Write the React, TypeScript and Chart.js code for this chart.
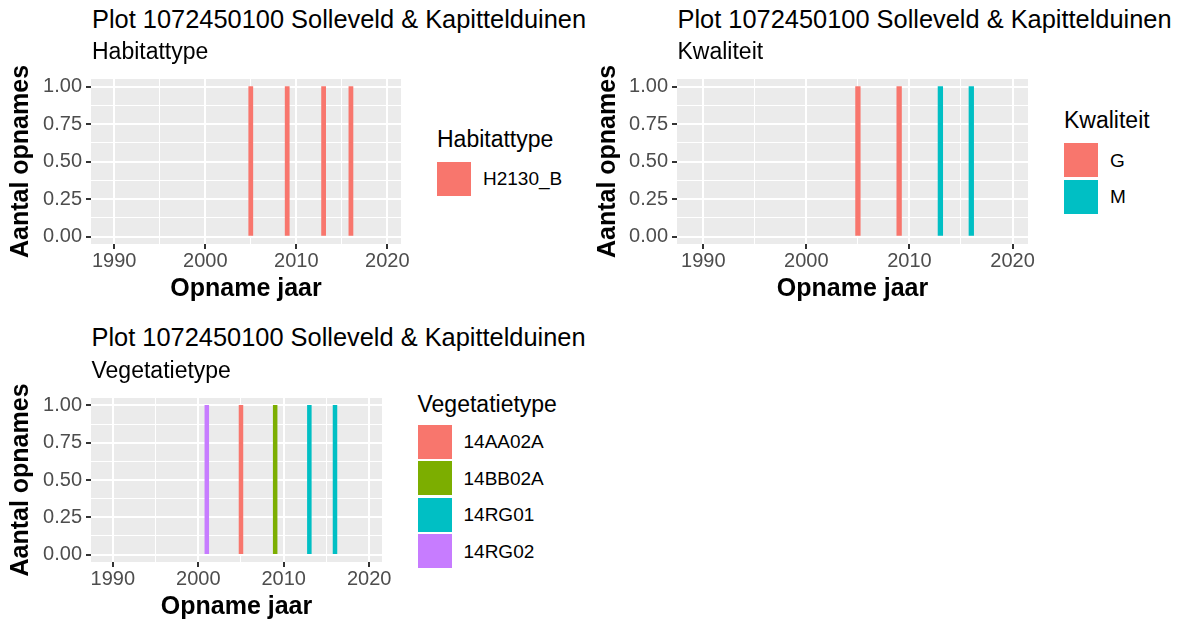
import React, { useEffect, useRef } from 'react';
import { Chart, registerables } from 'chart.js';

Chart.register(...registerables);

// ---------- text ----------
const plotTitle = 'Plot 1072450100 Solleveld & Kapittelduinen';
const xAxisTitle = 'Opname jaar';
const yAxisTitle = 'Aantal opnames';

// ---------- axes ----------
const xLimits = [1987.45, 2021.5];
const yLimits = [-0.05, 1.05];
const xMajorTicks = [1990, 2000, 2010, 2020];
const xMinorTicks = [1995, 2005, 2015];
const yMajorTicks = [0, 0.25, 0.5, 0.75, 1];
const yMinorTicks = [0.125, 0.375, 0.625, 0.875];
const barWidthYears = 0.45;

// ---------- panel 1: Habitattype ----------
const habitatYears = [2005, 2009, 2013, 2016];
const habitatTypes = ['H2130_B', 'H2130_B', 'H2130_B', 'H2130_B'];
const habitatCounts = [1, 1, 1, 1];
const habitatLevels = ['H2130_B'];
const habitatColors = ['#F8766D'];

// ---------- panel 2: Kwaliteit ----------
const kwaliteitYears = [2005, 2009, 2013, 2016];
const kwaliteitClasses = ['G', 'G', 'M', 'M'];
const kwaliteitCounts = [1, 1, 1, 1];
const kwaliteitLevels = ['G', 'M'];
const kwaliteitColors = ['#F8766D', '#00BFC4'];

// ---------- panel 3: Vegetatietype ----------
const vegetatieYears = [2001, 2005, 2009, 2013, 2016];
const vegetatieTypes = ['14RG02', '14AA02A', '14BB02A', '14RG01', '14RG01'];
const vegetatieCounts = [1, 1, 1, 1, 1];
const vegetatieLevels = ['14AA02A', '14BB02A', '14RG01', '14RG02'];
const vegetatieColors = ['#F8766D', '#7CAE00', '#00BFC4', '#C77CFF'];

const FONT = "'Liberation Sans', Arial, Helvetica, sans-serif";

type Layout = {
  left: number; top: number; w: number; h: number;
  yAxisWidth: number; xAxisHeight: number; padTop: number; padRight: number;
};

type PanelProps = {
  years: number[]; groups: string[]; counts: number[];
  levels: string[]; colors: string[]; layout: Layout;
};

function near(list: number[], v: number) {
  return list.some((t) => Math.abs(t - v) < 1e-9);
}

function Panel({ years, groups, counts, levels, colors, layout }: PanelProps) {
  const ref = useRef<HTMLCanvasElement>(null);
  useEffect(() => {
    if (!ref.current) return;
    const areaWidth = layout.w - layout.yAxisWidth - layout.padRight;
    const pxPerYear = areaWidth / (xLimits[1] - xLimits[0]);
    const thickness = barWidthYears * pxPerYear;
    const datasets = levels.map((lvl, i) => ({
      label: lvl,
      data: years
        .map((yr, j) => (groups[j] === lvl ? { x: yr, y: counts[j] } : null))
        .filter((d) => d !== null),
      backgroundColor: colors[i],
      borderWidth: 0,
      barThickness: thickness,
      grouped: false,
    }));
    const chart = new Chart(ref.current, {
      type: 'bar',
      data: { datasets: datasets as any },
      options: {
        animation: false,
        responsive: false,
        maintainAspectRatio: false,
        devicePixelRatio: 1,
        events: [],
        layout: { padding: { top: layout.padTop, right: layout.padRight, left: 0, bottom: 0 } },
        plugins: {
          legend: { display: false },
          tooltip: { enabled: false },
          title: { display: false },
        },
        scales: {
          x: {
            type: 'linear',
            min: xLimits[0],
            max: xLimits[1],
            bounds: 'data',
            offset: false,
            border: { display: false },
            grid: {
              offset: false,
              color: '#FFFFFF',
              lineWidth: (ctx: any) => (near(xMajorTicks, ctx.tick?.value) ? 2 : 1),
              drawTicks: true,
              tickLength: 5,
              tickWidth: 2,
              tickColor: (ctx: any) => (near(xMajorTicks, ctx.tick?.value) ? '#333333' : 'rgba(0,0,0,0)'),
            },
            ticks: {
              autoSkip: false,
              maxRotation: 0,
              minRotation: 0,
              padding: 0,
              color: '#4D4D4D',
              font: { family: FONT, size: 20 },
              callback: (v: any) => (near(xMajorTicks, Number(v)) ? String(v) : ''),
            },
            afterBuildTicks: (axis: any) => {
              axis.ticks = [...xMajorTicks, ...xMinorTicks].sort((a, b) => a - b).map((v) => ({ value: v }));
            },
            afterFit: (axis: any) => {
              axis.height = layout.xAxisHeight;
            },
            title: {
              display: true,
              text: xAxisTitle,
              color: '#000000',
              font: { family: FONT, size: 25, weight: 'bold' },
              padding: { top: 0, bottom: 5.5 },
            },
          },
          y: {
            type: 'linear',
            min: yLimits[0],
            max: yLimits[1],
            bounds: 'data',
            border: { display: false },
            grid: {
              color: '#FFFFFF',
              lineWidth: (ctx: any) => (near(yMajorTicks, ctx.tick?.value) ? 2 : 1),
              drawTicks: true,
              tickLength: 5,
              tickWidth: 2,
              tickColor: (ctx: any) => (near(yMajorTicks, ctx.tick?.value) ? '#333333' : 'rgba(0,0,0,0)'),
            },
            ticks: {
              autoSkip: false,
              padding: 4,
              color: '#4D4D4D',
              font: { family: FONT, size: 20 },
              callback: (v: any) => (near(yMajorTicks, Number(v)) ? Number(v).toFixed(2) : ''),
            },
            afterBuildTicks: (axis: any) => {
              axis.ticks = [...yMajorTicks, ...yMinorTicks].sort((a, b) => a - b).map((v) => ({ value: v }));
            },
            afterFit: (axis: any) => {
              axis.width = layout.yAxisWidth;
            },
            title: {
              display: true,
              text: yAxisTitle,
              color: '#000000',
              font: { family: FONT, size: 25, weight: 'bold' },
              padding: { top: 6, bottom: 0 },
            },
          },
        },
      } as any,
      plugins: [
        {
          id: 'panelBg',
          beforeDraw: (c: any) => {
            const { ctx, chartArea } = c;
            ctx.save();
            ctx.fillStyle = '#EBEBEB';
            ctx.fillRect(chartArea.left, chartArea.top, chartArea.right - chartArea.left, chartArea.bottom - chartArea.top);
            ctx.restore();
          },
        },
      ],
    });
    return () => chart.destroy();
  }, []);
  return (
    <canvas
      ref={ref}
      width={layout.w}
      height={layout.h}
      style={{ position: 'absolute', left: layout.left, top: layout.top, width: layout.w, height: layout.h }}
    />
  );
}

function Txt({ x, baseline, size, text, weight, color }: { x: number; baseline: number; size: number; text: string; weight?: string; color?: string }) {
  return (
    <div
      style={{
        position: 'absolute',
        left: x,
        top: baseline - 0.8465 * size,
        fontSize: size,
        lineHeight: `${size}px`,
        fontFamily: FONT,
        fontWeight: (weight || 'normal') as any,
        color: color || '#000000',
        whiteSpace: 'nowrap',
      }}
    >
      {text}
    </div>
  );
}

function Legend({ x, titleBaseline, keysTop, title, levels, colors }: { x: number; titleBaseline: number; keysTop: number; title: string; levels: string[]; colors: string[] }) {
  const keyW = 34;
  const keyH = 34;
  const pitch = 36.6;
  return (
    <>
      <Txt x={x} baseline={titleBaseline} size={23} text={title} />
      {levels.map((lvl, i) => {
        const top = keysTop + i * pitch;
        return (
          <React.Fragment key={lvl}>
            <div style={{ position: 'absolute', left: x, top, width: keyW, height: keyH, background: colors[i] }} />
            <Txt x={x + 46} baseline={top + keyH / 2 + 6.8} size={19} text={lvl} />
          </React.Fragment>
        );
      })}
    </>
  );
}

export default function App() {
  return (
    <div style={{ position: 'absolute', left: 0, top: 0, width: 1178, height: 621, overflow: 'hidden', background: '#FFFFFF' }}>
      <Panel
        years={habitatYears} groups={habitatTypes} counts={habitatCounts}
        levels={habitatLevels} colors={habitatColors}
        layout={{ left: 0, top: 60, w: 420, h: 250, yAxisWidth: 91, xAxisHeight: 66, padTop: 19, padRight: 19 }}
      />
      <Panel
        years={kwaliteitYears} groups={kwaliteitClasses} counts={kwaliteitCounts}
        levels={kwaliteitLevels} colors={kwaliteitColors}
        layout={{ left: 587, top: 60, w: 460, h: 250, yAxisWidth: 90, xAxisHeight: 66, padTop: 19, padRight: 19 }}
      />
      <Panel
        years={vegetatieYears} groups={vegetatieTypes} counts={vegetatieCounts}
        levels={vegetatieLevels} colors={vegetatieColors}
        layout={{ left: 0, top: 378, w: 401, h: 250, yAxisWidth: 91, xAxisHeight: 66, padTop: 20, padRight: 19 }}
      />

      <Txt x={92} baseline={28.3} size={25.4} text={plotTitle} />
      <Txt x={92} baseline={59.3} size={23} text="Habitattype" />
      <Txt x={677.5} baseline={28.3} size={25.4} text={plotTitle} />
      <Txt x={677.5} baseline={59.3} size={23} text="Kwaliteit" />
      <Txt x={91.5} baseline={347} size={25.4} text={plotTitle} />
      <Txt x={91.5} baseline={378} size={23} text="Vegetatietype" />

      <Legend x={437} titleBaseline={147.5} keysTop={161.5} title="Habitattype" levels={habitatLevels} colors={habitatColors} />
      <Legend x={1064} titleBaseline={128.3} keysTop={143} title="Kwaliteit" levels={kwaliteitLevels} colors={kwaliteitColors} />
      <Legend x={417.5} titleBaseline={412} keysTop={424.5} title="Vegetatietype" levels={vegetatieLevels} colors={vegetatieColors} />
    </div>
  );
}
